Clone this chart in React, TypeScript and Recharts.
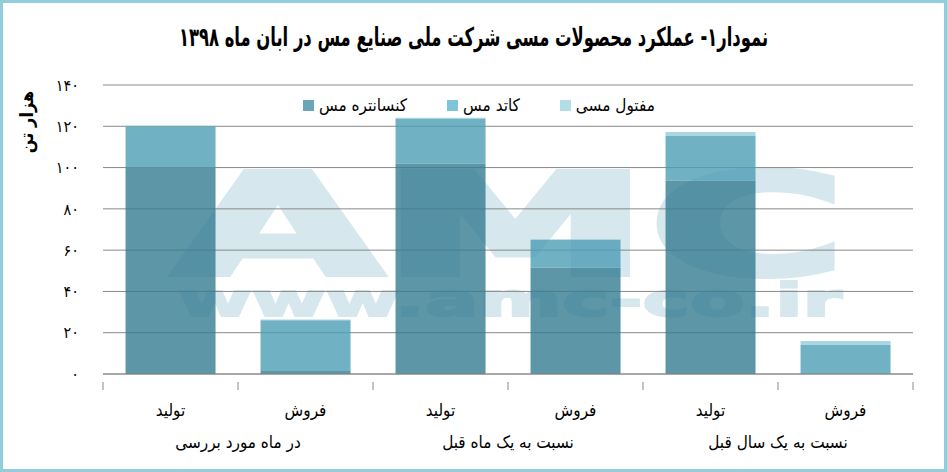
import { BarChart, Bar, XAxis, YAxis, CartesianGrid } from 'recharts';

const CATEGORIES = ['تولید', 'فروش', 'تولید', 'فروش', 'تولید', 'فروش'];
const GROUPS = ['در ماه مورد بررسی', 'نسبت به یک ماه قبل', 'نسبت به یک سال قبل'];
const CONCENTRATE = [100, 1.5, 102, 51.5, 93.7, 0];
const CATHODE = [20, 24.5, 21.5, 13.5, 21.6, 14.1];
const WIRE = [0.3, 0.4, 0.6, 0.3, 1.9, 1.9];
const Y_TICKS = [0, 20, 40, 60, 80, 100, 120, 140];

const SERIES = [
  { key: 'concentrate', name: 'کنسانتره مس', fill: '#347c91', legend: '#6aa6b7' },
  { key: 'cathode', name: 'کاتد مس', fill: '#4e9db5', legend: '#80c4d7' },
  { key: 'wire', name: 'مفتول مسی', fill: '#92cddb', legend: '#b3dde8' },
];

const FONT = '"DejaVu Sans Condensed", "DejaVu Sans", sans-serif';
const PLOT_W = 810;
const BAND = PLOT_W / CATEGORIES.length;

const data = CATEGORIES.map((c, i) => ({
  idx: i,
  label: c,
  concentrate: CONCENTRATE[i],
  cathode: CATHODE[i],
  wire: WIRE[i],
}));

function toFa(n: number): string {
  return String(n).replace(/\d/g, (d) => '۰۱۲۳۴۵۶۷۸۹'[Number(d)]);
}

function XTick(props: any) {
  const { x, y, payload, index } = props;
  const i = payload.value as number;
  return (
    <g>
      <line x1={x - BAND / 2} x2={x - BAND / 2} y1={y} y2={y + 8} stroke="#8a8a8a" />
      {index === CATEGORIES.length - 1 && (
        <line x1={x + BAND / 2} x2={x + BAND / 2} y1={y} y2={y + 8} stroke="#8a8a8a" />
      )}
      <text x={x} y={y + 34} textAnchor="middle" fontSize={17} fontFamily={FONT} fill="#000">
        {CATEGORIES[i]}
      </text>
      {i % 2 === 0 && (
        <text x={x + BAND / 2} y={y + 66} textAnchor="middle" fontSize={17} fontFamily={FONT} fill="#000">
          {GROUPS[i / 2]}
        </text>
      )}
    </g>
  );
}

function LegendBox() {
  return (
    <div
      style={{
        position: 'absolute', top: 92, left: 300, display: 'flex', gap: 40,
        fontFamily: FONT, fontSize: 17,
      }}
    >
      {SERIES.map((s) => (
        <div key={s.key} style={{ display: 'flex', alignItems: 'center', gap: 5 }}>
          <span style={{ width: 11, height: 11, background: s.legend, display: 'inline-block' }} />
          <span style={{ direction: 'rtl' }}>{s.name}</span>
        </div>
      ))}
    </div>
  );
}

export default function App() {
  return (
    <div
      style={{
        position: 'absolute', top: 0, left: 0, width: 947, height: 472,
        boxSizing: 'border-box', border: '3px solid #92cddc', background: '#fff', overflow: 'hidden',
      }}
    >
      <svg width={947} height={472} style={{ position: 'absolute', top: -3, left: -3 }}>
        <text x={510} y={274} textAnchor="middle" fontSize={140} fontWeight="bold"
          fontFamily='"DejaVu Sans", sans-serif' fill="#d6e7ed" stroke="#d6e7ed" strokeWidth={6}
          textLength={672} lengthAdjust="spacingAndGlyphs">
          AMC
        </text>
        <text x={510} y={316} textAnchor="middle" fontSize={46} fontWeight="bold"
          fontFamily='"DejaVu Sans", sans-serif' fill="#d6e7ed" stroke="#d6e7ed" strokeWidth={2}
          textLength={664} lengthAdjust="spacingAndGlyphs">
          www.amc-co.ir
        </text>
      </svg>
      <div
        style={{
          position: 'absolute', top: 19, left: -3, width: 947, textAlign: 'center', direction: 'rtl',
          fontFamily: FONT, fontWeight: 'bold', fontSize: 26, transform: 'scaleX(0.7)',
        }}
      >
        نمودار۱- عملکرد محصولات مسی شرکت ملی صنایع مس در ابان ماه ۱۳۹۸
      </div>
      <svg width={70} height={220} style={{ position: 'absolute', top: -3, left: -3 }}>
        <text x={0} y={0} transform="translate(33,122) rotate(-90)" textAnchor="middle"
          fontSize={18} fontWeight="bold" fontFamily={FONT} fill="#000">
          هزار تن
        </text>
      </svg>
      <div style={{ position: 'absolute', top: -3, left: -3 }}>
        <BarChart
          width={947}
          height={472}
          data={data}
          margin={{ top: 85, right: 34, bottom: 0, left: 0 }}
          barCategoryGap="16.7%"
        >
          <CartesianGrid vertical={false} stroke="#8a8a8a" />
          <XAxis
            dataKey="idx"
            stroke="#8a8a8a"
            tickLine={false}
            tick={<XTick />}
            interval={0}
            height={98}
          />
          <YAxis
            domain={[0, 140]}
            ticks={Y_TICKS}
            tickFormatter={toFa}
            axisLine={false}
            tickLine={false}
            tickSize={0}
            tickMargin={24}
            width={103}
            tick={{ fontSize: 16, fill: '#000', fontFamily: FONT }}
          />
          {SERIES.map((s) => (
            <Bar
              key={s.key}
              dataKey={s.key}
              name={s.name}
              stackId="a"
              fill={s.fill}
              fillOpacity={0.8}
              isAnimationActive={false}
            />
          ))}
        </BarChart>
      </div>
      <LegendBox />
    </div>
  );
}
